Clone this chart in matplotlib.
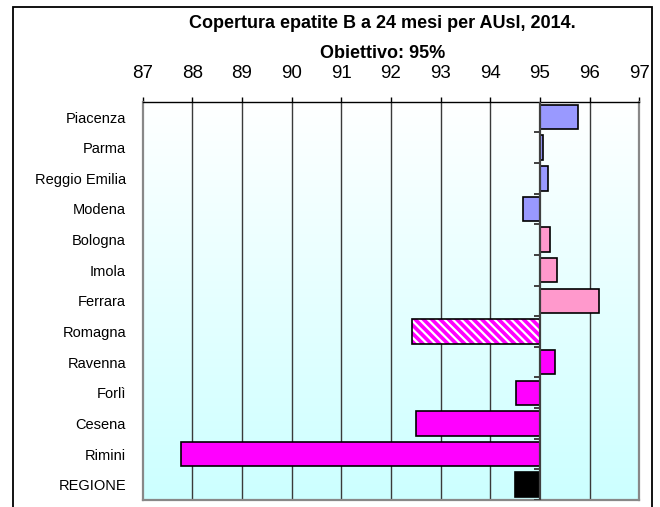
import numpy as np
import matplotlib
matplotlib.use("Agg")
import matplotlib.pyplot as plt
from matplotlib.patches import Rectangle

plt.rcParams['font.family'] = ['Liberation Sans', 'DejaVu Sans']
plt.rcParams['hatch.linewidth'] = 1.6

# dati
aziende = ['Piacenza', 'Parma', 'Reggio Emilia', 'Modena', 'Bologna', 'Imola',
           'Ferrara', 'Romagna', 'Ravenna', 'Forlì', 'Cesena', 'Rimini', 'REGIONE']
copertura = [95.77, 95.07, 95.17, 94.65, 95.21, 95.34,
             96.18, 92.43, 95.31, 94.51, 92.50, 87.78, 94.50]
colori = ['#9999ff', '#9999ff', '#9999ff', '#9999ff', '#ff99cc', '#ff99cc',
          '#ff99cc', '#ff00ff', '#ff00ff', '#ff00ff', '#ff00ff', '#ff00ff', '#000000']
tratteggio = [None, None, None, None, None, None, None, '\\\\\\\\', None, None, None, None, None]
obiettivo = 95
xmin, xmax = 87, 97

fig = plt.figure(figsize=(6.6, 5.07), dpi=100)
ax = fig.add_axes([0.2162, 0.0138, 0.7524, 0.7856])

n = len(aziende)
y = np.arange(n)

# sfondo sfumato
grad = np.linspace(0, 1, 256)[:, None]
top = np.array([1.0, 1.0, 1.0])
bot = np.array([0.80, 1.0, 1.0])
img = top + grad[:, :, None] * (bot - top)
ax.imshow(img, extent=[xmin, xmax, n - 0.5, -0.5], aspect='auto', zorder=0)

# griglia verticale
for v in range(xmin + 1, xmax):
    if v != obiettivo:
        ax.axvline(v, color='#3a3a3a', lw=1.0, zorder=1)

# barre
diff = [c - obiettivo for c in copertura]
for i in range(n):
    if tratteggio[i]:
        ax.barh(y[i], diff[i], left=obiettivo, height=0.8, color=colori[i],
                hatch=tratteggio[i], edgecolor='white', lw=0, zorder=3)
        ax.barh(y[i], diff[i], left=obiettivo, height=0.8, fill=False,
                edgecolor='black', lw=1.2, zorder=4)
    else:
        ax.barh(y[i], diff[i], left=obiettivo, height=0.8, color=colori[i],
                edgecolor='black', lw=1.2, zorder=3)

# asse delle categorie a 95
ax.axvline(obiettivo, color='#404040', lw=1.6, zorder=5)
ax.hlines(y[:-1] + 0.5, obiettivo - 0.12, obiettivo, color='#404040', lw=1.4, zorder=5)
ax.hlines([n - 0.5], obiettivo - 0.12, obiettivo, color='#404040', lw=1.4, zorder=5)

ax.set_xlim(xmin, xmax)
ax.set_ylim(n - 0.5, -0.5)
ax.xaxis.tick_top()
ax.set_xticks(range(xmin, xmax + 1))
ax.tick_params(axis='x', length=3.5, width=1, pad=11, labelsize=13.5, color='black')
ax.set_yticks(y)
ax.set_yticklabels(aziende)
ax.tick_params(axis='y', length=0, pad=12, labelsize=10.5)

for s in ['left', 'right', 'bottom']:
    ax.spines[s].set_color('#888888')
    ax.spines[s].set_linewidth(1.6)
ax.spines['top'].set_color('black')
ax.spines['top'].set_linewidth(1.0)

fig.text(0.579, 1 - 24 / 507, 'Copertura epatite B a 24 mesi per AUsl, 2014.',
         ha='center', va='center', fontsize=13, fontweight='bold')
fig.text(0.579, 1 - 53 / 507, 'Obiettivo: 95%',
         ha='center', va='center', fontsize=13, fontweight='bold')

# cornice esterna
fig.add_artist(Rectangle((13 / 660, -0.02), (652 - 13) / 660, 1.02 - 7 / 507,
                         transform=fig.transFigure, fill=False,
                         edgecolor='black', lw=1.3, clip_on=False))

fig.savefig('out.png', dpi=100)
